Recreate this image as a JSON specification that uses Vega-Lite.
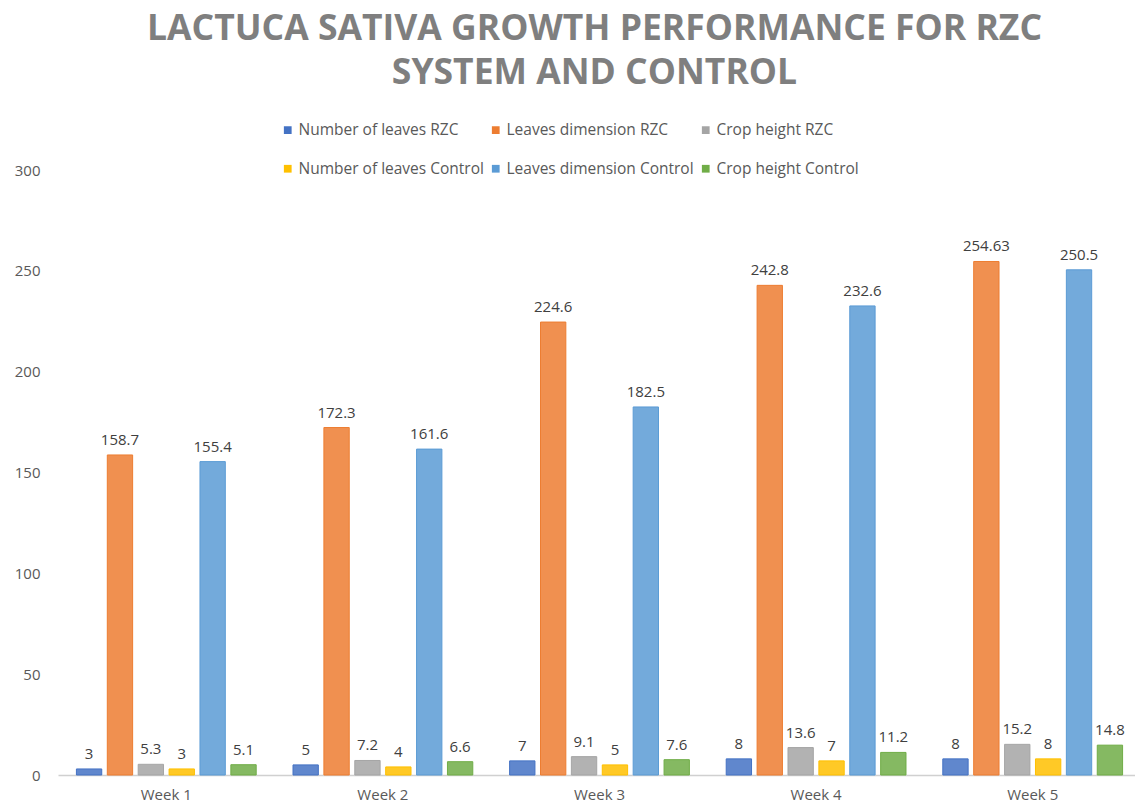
{
  "$schema": "https://vega.github.io/schema/vega-lite/v6.json",
  "autosize": {"type": "none"},
  "width": 1083,
  "height": 605,
  "padding": {"left": 58, "top": 170, "right": 0, "bottom": 34},
  "background": "white",
  "view": {"stroke": null},
  "title": {
    "text": ["LACTUCA SATIVA GROWTH PERFORMANCE FOR RZC", "SYSTEM AND CONTROL"],
    "anchor": "middle",
    "frame": "group",
    "font": "Open Sans",
    "fontSize": 35.5,
    "fontWeight": "bold",
    "color": "#7f7f7f",
    "lineHeight": 44,
    "offset": 31,
    "dx": -5
  },
  "data": {
    "values": [
      {"week": "Week 1", "series": "Number of leaves RZC", "value": 3},
      {"week": "Week 1", "series": "Leaves dimension RZC", "value": 158.7},
      {"week": "Week 1", "series": "Crop height RZC", "value": 5.3},
      {"week": "Week 1", "series": "Number of leaves Control", "value": 3},
      {"week": "Week 1", "series": "Leaves dimension Control", "value": 155.4},
      {"week": "Week 1", "series": "Crop height Control", "value": 5.1},
      {"week": "Week 2", "series": "Number of leaves RZC", "value": 5},
      {"week": "Week 2", "series": "Leaves dimension RZC", "value": 172.3},
      {"week": "Week 2", "series": "Crop height RZC", "value": 7.2},
      {"week": "Week 2", "series": "Number of leaves Control", "value": 4},
      {"week": "Week 2", "series": "Leaves dimension Control", "value": 161.6},
      {"week": "Week 2", "series": "Crop height Control", "value": 6.6},
      {"week": "Week 3", "series": "Number of leaves RZC", "value": 7},
      {"week": "Week 3", "series": "Leaves dimension RZC", "value": 224.6},
      {"week": "Week 3", "series": "Crop height RZC", "value": 9.1},
      {"week": "Week 3", "series": "Number of leaves Control", "value": 5},
      {"week": "Week 3", "series": "Leaves dimension Control", "value": 182.5},
      {"week": "Week 3", "series": "Crop height Control", "value": 7.6},
      {"week": "Week 4", "series": "Number of leaves RZC", "value": 8},
      {"week": "Week 4", "series": "Leaves dimension RZC", "value": 242.8},
      {"week": "Week 4", "series": "Crop height RZC", "value": 13.6},
      {"week": "Week 4", "series": "Number of leaves Control", "value": 7},
      {"week": "Week 4", "series": "Leaves dimension Control", "value": 232.6},
      {"week": "Week 4", "series": "Crop height Control", "value": 11.2},
      {"week": "Week 5", "series": "Number of leaves RZC", "value": 8},
      {"week": "Week 5", "series": "Leaves dimension RZC", "value": 254.63},
      {"week": "Week 5", "series": "Crop height RZC", "value": 15.2},
      {"week": "Week 5", "series": "Number of leaves Control", "value": 8},
      {"week": "Week 5", "series": "Leaves dimension Control", "value": 250.5},
      {"week": "Week 5", "series": "Crop height Control", "value": 14.8}
    ]
  },
  "encoding": {
    "x": {
      "field": "week", "type": "nominal", "title": null,
      "scale": {"paddingInner": 0.17, "paddingOuter": 0.085},
      "axis": {
        "labelAngle": 0, "labelFont": "Open Sans", "labelFontSize": 15, "labelColor": "#595959",
        "domainColor": "#d0d0d0", "domainWidth": 1.5, "ticks": false, "labelPadding": 12
      }
    },
    "xOffset": {
      "field": "series", "type": "nominal",
      "sort": ["Number of leaves RZC", "Leaves dimension RZC", "Crop height RZC", "Number of leaves Control", "Leaves dimension Control", "Crop height Control"],
      "scale": {"paddingInner": 0.18}
    },
    "y": {
      "field": "value", "type": "quantitative", "title": null,
      "scale": {"domain": [0, 300]},
      "axis": {
        "values": [0, 50, 100, 150, 200, 250, 300], "grid": false, "domain": false, "ticks": false,
        "labelFont": "Open Sans", "labelFontSize": 15, "labelColor": "#595959", "labelPadding": 18
      }
    }
  },
  "layer": [
    {
      "mark": {"type": "bar", "strokeWidth": 1, "fillOpacity": 0.85},
      "encoding": {
        "color": {
          "field": "series", "type": "nominal", "title": null,
          "sort": ["Number of leaves RZC", "Leaves dimension RZC", "Crop height RZC", "Number of leaves Control", "Leaves dimension Control", "Crop height Control"],
          "scale": {
            "domain": ["Number of leaves RZC", "Leaves dimension RZC", "Crop height RZC", "Number of leaves Control", "Leaves dimension Control", "Crop height Control"],
            "range": ["#4472C4", "#ED7D31", "#A5A5A5", "#FFC000", "#5B9BD5", "#70AD47"]
          },
          "legend": {
            "orient": "none", "legendX": 222, "legendY": -48, "direction": "horizontal", "columns": 3,
            "symbolType": "square", "symbolSize": 60, "symbolStrokeWidth": 0, "symbolOpacity": 1,
            "labelFont": "Open Sans", "labelFontSize": 15.5, "labelColor": "#595959", "labelOffset": 3,
            "columnPadding": 4, "rowPadding": 22, "labelLimit": 300
          }
        },
        "stroke": {
          "field": "series", "type": "nominal",
          "scale": {
            "domain": ["Number of leaves RZC", "Leaves dimension RZC", "Crop height RZC", "Number of leaves Control", "Leaves dimension Control", "Crop height Control"],
            "range": ["#4472C4", "#ED7D31", "#A5A5A5", "#FFC000", "#5B9BD5", "#70AD47"]
          },
          "legend": null
        }
      }
    },
    {
      "mark": {"type": "text", "dy": -15, "font": "Open Sans", "fontSize": 15, "color": "#404040"},
      "encoding": {
        "text": {"field": "value", "type": "quantitative"}
      }
    }
  ]
}
